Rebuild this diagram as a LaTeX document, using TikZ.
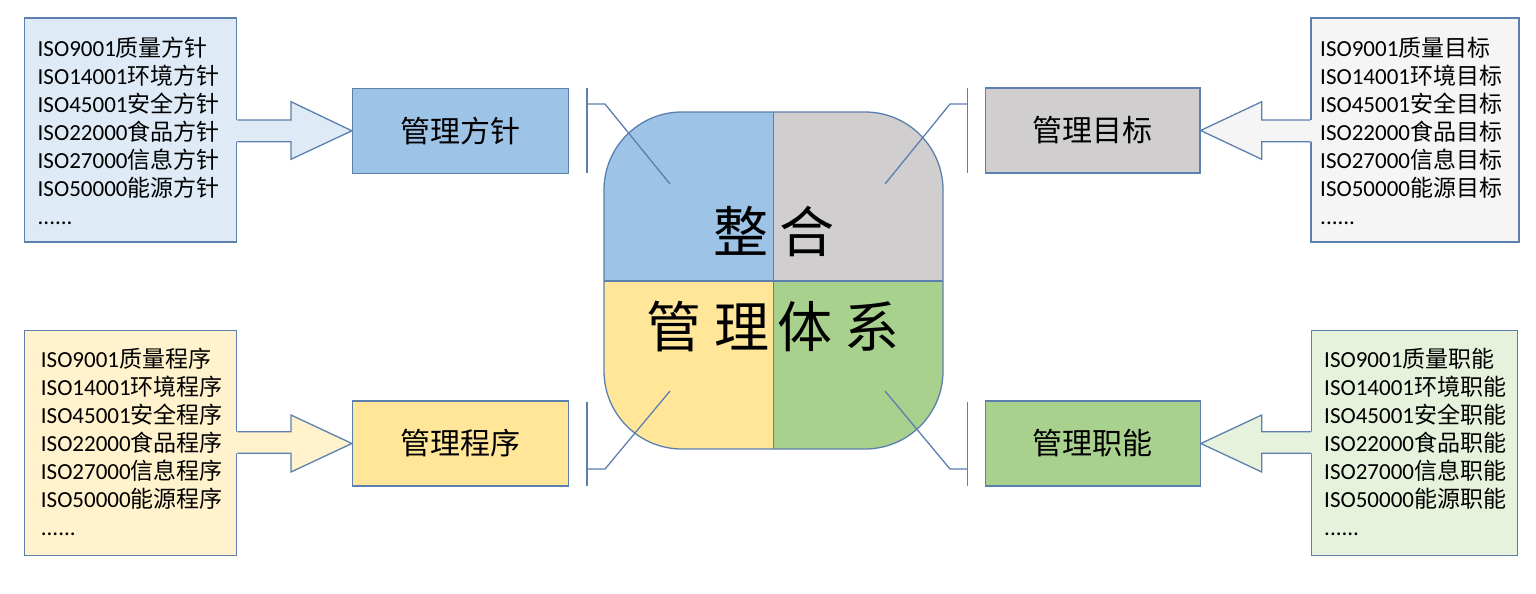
\documentclass[tikz,border=0pt]{standalone}
\usepackage{fontspec}
\setmainfont{Carlito}
\newfontfamily\cjk{Noto Sans CJK SC}
\usetikzlibrary{calc}
\definecolor{edge}{HTML}{5B80AE}
\definecolor{qblue}{HTML}{9DC3E6}
\definecolor{qgrey}{HTML}{D0CECE}
\definecolor{qyellow}{HTML}{FFE699}
\definecolor{qgreen}{HTML}{A9D18E}
\definecolor{lblue}{HTML}{DEEBF7}
\definecolor{lgrey}{HTML}{F5F5F5}
\definecolor{lyellow}{HTML}{FFF2CC}
\definecolor{lgreen}{HTML}{E6F2DC}
\newcommand\isoline[2]{#1{\cjk #2}}
\begin{document}
\begin{tikzpicture}[x=1pt,y=-1pt,
  edgeline/.style={draw=edge,line width=1.3pt},
  listbox/.style={edgeline,minimum width=212,minimum height=224,inner sep=0},
  topicbox/.style={edgeline,minimum width=216,minimum height=85,inner sep=0,
     font=\cjk\fontsize{30}{32}\selectfont},
  listline/.style={anchor=base west,inner sep=0,font=\fontsize{23}{28}\selectfont},
  bigchar/.style={inner sep=0,font=\cjk\fontsize{55}{60}\selectfont},
  blockarrow/.style={edgeline,line join=miter}]
\useasboundingbox (0,0) rectangle (1536,594);

% list boxes
\node[listbox,fill=lblue] (b1) at (130.6,130) {};
\node[listbox,fill=lyellow,minimum height=225] (b3) at (130.6,443.3) {};
\node[listbox,fill=lgrey,minimum width=208] (b2) at (1415,130) {};
\node[listbox,fill=lgreen,minimum width=206,minimum height=225] (b4) at (1414.6,443.3) {};

% topic boxes
\node[topicbox,fill=qblue] (n1) at (460.5,130.8) {管理方针};
\node[topicbox,fill=qyellow] (n3) at (460.5,443.5) {管理程序};
\node[topicbox,fill=qgrey,minimum width=214.5] (n2) at (1092.7,130.5) {管理目标};
\node[topicbox,fill=qgreen,minimum width=215] (n4) at (1092.7,443.5) {管理职能};

% list texts
\node[listline] (t11) at (37.5,56.5) {\isoline{ISO9001}{质量方针}};
\node[listline] (t12) at (37.5,84.5) {\isoline{ISO14001}{环境方针}};
\node[listline] (t13) at (37.5,112.5) {\isoline{ISO45001}{安全方针}};
\node[listline] (t14) at (37.5,140.5) {\isoline{ISO22000}{食品方针}};
\node[listline] (t15) at (37.5,168.5) {\isoline{ISO27000}{信息方针}};
\node[listline] (t16) at (37.5,196.5) {\isoline{ISO50000}{能源方针}};
\node[listline] (t17) at (37.5,224.5) {......};

\node[listline] (t21) at (1320,56.5) {\isoline{ISO9001}{质量目标}};
\node[listline] (t22) at (1320,84.5) {\isoline{ISO14001}{环境目标}};
\node[listline] (t23) at (1320,112.5) {\isoline{ISO45001}{安全目标}};
\node[listline] (t24) at (1320,140.5) {\isoline{ISO22000}{食品目标}};
\node[listline] (t25) at (1320,168.5) {\isoline{ISO27000}{信息目标}};
\node[listline] (t26) at (1320,196.5) {\isoline{ISO50000}{能源目标}};
\node[listline] (t27) at (1320,224.5) {......};

\node[listline] (t31) at (40.7,367.5) {\isoline{ISO9001}{质量程序}};
\node[listline] (t32) at (40.7,395.5) {\isoline{ISO14001}{环境程序}};
\node[listline] (t33) at (40.7,423.5) {\isoline{ISO45001}{安全程序}};
\node[listline] (t34) at (40.7,451.5) {\isoline{ISO22000}{食品程序}};
\node[listline] (t35) at (40.7,479.5) {\isoline{ISO27000}{信息程序}};
\node[listline] (t36) at (40.7,507.5) {\isoline{ISO50000}{能源程序}};
\node[listline] (t37) at (40.7,535.5) {......};

\node[listline] (t41) at (1324,367.5) {\isoline{ISO9001}{质量职能}};
\node[listline] (t42) at (1324,395.5) {\isoline{ISO14001}{环境职能}};
\node[listline] (t43) at (1324,423.5) {\isoline{ISO45001}{安全职能}};
\node[listline] (t44) at (1324,451.5) {\isoline{ISO22000}{食品职能}};
\node[listline] (t45) at (1324,479.5) {\isoline{ISO27000}{信息职能}};
\node[listline] (t46) at (1324,507.5) {\isoline{ISO50000}{能源职能}};
\node[listline] (t47) at (1324,535.5) {......};

% block arrows (from list box to topic box)
\fill[lblue] (236,120) -- (291,120) -- (291,101.7) -- (n1.west) -- (291,159.3) -- (291,141.7) -- (236,141.7) -- cycle;
\draw[blockarrow] (b1.east |- 0,120) -- (291,120) -- (291,101.7) -- (n1.west) -- (291,159.3) -- (291,141.7) -- (b1.east |- 0,141.7);

\fill[lyellow] (236,431.7) -- (291,431.7) -- (291,415) -- (n3.west) -- (291,472) -- (291,453.3) -- (236,453.3) -- cycle;
\draw[blockarrow] (b3.east |- 0,431.7) -- (291,431.7) -- (291,415) -- (n3.west) -- (291,472) -- (291,453.3) -- (b3.east |- 0,453.3);

\fill[lgrey] (1312,120) -- (1261.7,120) -- (1261.7,101.7) -- (n2.east) -- (1261.7,159.3) -- (1261.7,141.7) -- (1312,141.7) -- cycle;
\draw[blockarrow] (b2.west |- 0,120) -- (1261.7,120) -- (1261.7,101.7) -- (n2.east) -- (1261.7,159.3) -- (1261.7,141.7) -- (b2.west |- 0,141.7);

\fill[lgreen] (1312.5,431.7) -- (1261.7,431.7) -- (1261.7,415) -- (n4.east) -- (1261.7,472) -- (1261.7,453.3) -- (1312.5,453.3) -- cycle;
\draw[blockarrow] (b4.west |- 0,431.7) -- (1261.7,431.7) -- (1261.7,415) -- (n4.east) -- (1261.7,472) -- (1261.7,453.3) -- (b4.west |- 0,453.3);

% central rounded square
\begin{scope}
  \clip[rounded corners=78] (604,112) rectangle (943,449);
  \fill[qblue] (604,112) rectangle (773.5,281);
  \fill[qgrey] (773.5,112) rectangle (943,281);
  \fill[qyellow] (604,281) rectangle (773.5,449);
  \fill[qgreen] (773.5,281) rectangle (943,449);
\end{scope}
\draw[edgeline,rounded corners=78] (604,112) rectangle (943,449);
\draw[edgeline] (773.5,112) -- (773.5,449);
\draw[edgeline] (604,281) -- (943,281);

\node[bigchar] (c1) at (741,231) {整};
\node[bigchar] (c2) at (806.7,231) {合};
\node[bigchar] (c3) at (673.7,326.7) {管};
\node[bigchar] (c4) at (741.5,326.7) {理};
\node[bigchar] (c5) at (805,326.7) {体};
\node[bigchar] (c6) at (871.7,326.7) {系};

% bracket connectors
\coordinate (k1) at (670,184);
\coordinate (k2) at (885,184);
\coordinate (k3) at (670,391);
\coordinate (k4) at (885,391);
\draw[edgeline] (587,88) -- (587,173);
\draw[edgeline] (587,104) -- (605,104) -- (k1);
\draw[edgeline] (967.3,88) -- (967.3,173);
\draw[edgeline] (967.3,104) -- (950,104) -- (k2);
\draw[edgeline] (587,401.5) -- (587,486);
\draw[edgeline] (587,469) -- (605,469) -- (k3);
\draw[edgeline] (967.3,401.5) -- (967.3,486);
\draw[edgeline] (967.3,469) -- (950,469) -- (k4);
\end{tikzpicture}
\end{document}
